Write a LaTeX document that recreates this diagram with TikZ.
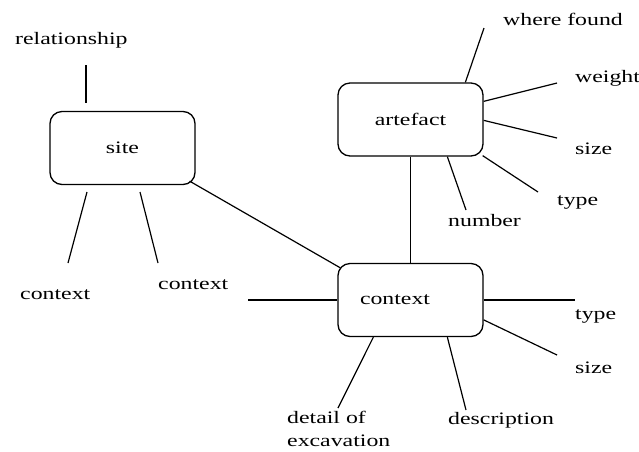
\documentclass[tikz,border=0pt]{standalone}
\usepackage{fontspec}
\setmainfont[FakeStretch=1.36]{Liberation Serif}
\usetikzlibrary{calc}
\begin{document}
\begin{tikzpicture}[x=1pt,y=-1pt,
  every node/.style={font=\fontsize{17.5}{23}\selectfont},
  ent/.style={draw,line width=1.3pt,rounded corners=12pt,minimum width=145pt,minimum height=73pt,inner sep=0pt},
  lbl/.style={anchor=base west,inner sep=0pt},
  conn/.style={line width=1.2pt}]
\useasboundingbox (0,0) rectangle (639,451);
% entity boxes
\node[ent] (site) at (122.5,148) {site};
\node[ent] (artefact) at (410.5,119.5) {artefact};
\node[ent,text width=101pt,align=left,inner xsep=22pt] (context) at (410.5,300) {context};
% labels
\node[lbl] (relationship) at (15,44) {relationship};
\node[lbl] (ctxA) at (20,299) {context};
\node[lbl] (ctxB) at (158,289) {context};
\node[lbl] (wherefound) at (503,25) {where found};
\node[lbl] (weight) at (575,82) {weight};
\node[lbl] (sizeA) at (575,154) {size};
\node[lbl] (typeA) at (557,205) {type};
\node[lbl] (number) at (448,226) {number};
\node[lbl] (typeC) at (575,319) {type};
\node[lbl] (sizeC) at (575,373) {size};
\node[lbl] (description) at (448,424) {description};
\node[lbl,align=left] (detail) at (287,446) {detail of\\excavation};
% free ends
\coordinate (r1) at (86,65);
\coordinate (r2) at (86,103);
\coordinate (sl1) at (87,192);
\coordinate (sl2) at (68,263);
\coordinate (sr1) at (140,192);
\coordinate (sr2) at (158,263);
\coordinate (wf) at (484,28);
\coordinate (wt) at (557,83);
\coordinate (sa) at (557,138);
\coordinate (ta) at (538,192);
\coordinate (nb) at (466,210);
\coordinate (cl) at (248,300);
\coordinate (tc) at (575,300);
\coordinate (sc) at (557,355);
\coordinate (ds) at (466,410);
\coordinate (dt) at (338,408);
% connectors
\draw[conn] (r1) -- (r2);
\draw[conn] (sl1) -- (sl2);
\draw[conn] (sr1) -- (sr2);
\draw[conn] ($(site.south east)+(-6,-4)$) -- ($(context.north west)+(3,5)$);
\draw[conn] (artefact.south) -- (context.north);
\draw[conn] ($(artefact.north west)+(128,0)$) -- (wf);
\draw[conn] ($(artefact.north east)+(0,19)$) -- (wt);
\draw[conn] ($(artefact.north east)+(0,38)$) -- (sa);
\draw[conn] ($(artefact.south east)+(-1,-1)$) -- (ta);
\draw[conn] ($(artefact.south west)+(110,0)$) -- (nb);
\draw[conn] (cl) -- (context.west);
\draw[conn] (context.east) -- (tc);
\draw[conn] ($(context.north east)+(0,57)$) -- (sc);
\draw[conn] ($(context.south west)+(110,0)$) -- (ds);
\draw[conn] ($(context.south west)+(36,0)$) -- (dt);
\end{tikzpicture}
\end{document}
